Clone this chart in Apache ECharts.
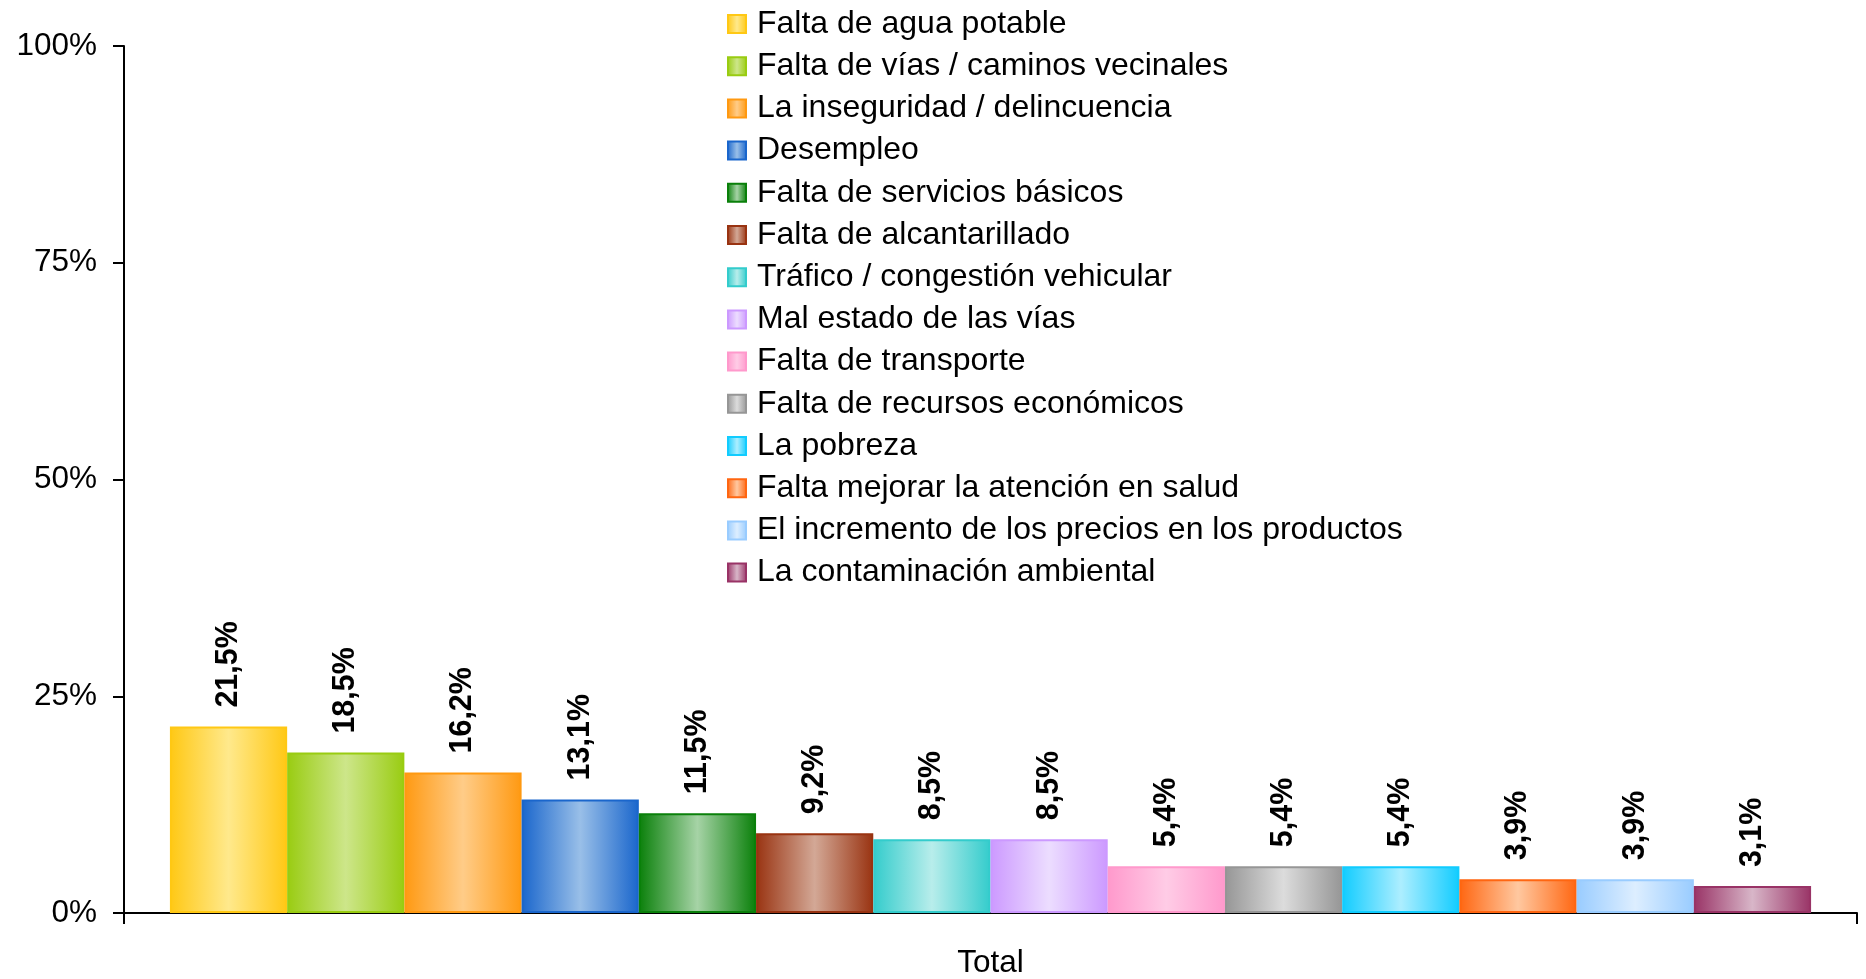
<!DOCTYPE html>
<html>
<head>
<meta charset="utf-8">
<title>Problemas</title>
<script src="https://cdn.jsdelivr.net/npm/echarts@6/dist/echarts.min.js"></script>
<style>
  html, body { margin: 0; padding: 0; background: #fff; }
  #chart { width: 1866px; height: 979px; }
</style>
</head>
<body>
<div id="chart"></div>
<script>
var categories = ['Total'];

var seriesNames = [
    'Falta de agua potable',
    'Falta de vías / caminos vecinales',
    'La inseguridad / delincuencia',
    'Desempleo',
    'Falta de servicios básicos',
    'Falta de alcantarillado',
    'Tráfico / congestión vehicular',
    'Mal estado de las vías',
    'Falta de transporte',
    'Falta de recursos económicos',
    'La pobreza',
    'Falta mejorar la atención en salud',
    'El incremento de los precios en los productos',
    'La contaminación ambiental'
];

var seriesValues = [21.5, 18.5, 16.2, 13.1, 11.5, 9.2, 8.5, 8.5, 5.4, 5.4, 5.4, 3.9, 3.9, 3.1];

// edge colour / centre colour of each bar
var edgeColors = ['#FFC814', '#99CC11', '#FF9911', '#1A66CC', '#0A800A', '#993311', '#33CCCC',
                  '#CC99FF', '#FF99CC', '#969696', '#11CCFF', '#FF6611', '#99CCFF', '#993366'];
var lightColors = ['#FFE98C', '#CDE68A', '#FFCC88', '#99BFE8', '#A6D3A6', '#D3A896', '#B8EDEB',
                   '#ECDDFF', '#FFCCE6', '#DCDCDC', '#ADEEFF', '#FFC8A0', '#DDEEFF', '#D8B6C8'];

var yTicks = [0, 25, 50, 75, 100];

var chartDom = document.getElementById('chart');
var myChart = echarts.init(chartDom);
var font = "'Liberation Sans', Arial, Helvetica, sans-serif";

var series = seriesNames.map(function (name, i) {
    return {
        name: name,
        type: 'bar',
        barGap: '0%',
        barCategoryGap: '5.3%',
        data: [seriesValues[i]],
        itemStyle: {
            color: new echarts.graphic.LinearGradient(0, 0, 1, 0, [
                { offset: 0, color: edgeColors[i] },
                { offset: 0.5, color: lightColors[i] },
                { offset: 1, color: edgeColors[i] }
            ]),
            borderColor: edgeColors[i],
            borderWidth: 2
        },
        label: {
            show: true,
            position: 'top',
            rotate: 90,
            align: 'left',
            verticalAlign: 'middle',
            distance: 19,
            fontFamily: font,
            fontSize: 30.5,
            fontWeight: 'bold',
            color: '#000',
            formatter: function (p) {
                return p.value.toFixed(1).replace('.', ',') + '%';
            }
        }
    };
});

var option = {
    animation: false,
    textStyle: { fontFamily: font },
    grid: {
        left: 124,
        right: 9,
        top: 46,
        bottom: 64
    },
    legend: {
        orient: 'vertical',
        left: 722,
        top: 3,
        icon: 'rect',
        itemWidth: 18,
        itemHeight: 18,
        itemGap: 10.2,
        textStyle: {
            fontFamily: font,
            fontSize: 32,
            color: '#000',
            lineHeight: 32,
            padding: [0, 0, 0, 6]
        },
        data: seriesNames
    },
    xAxis: {
        type: 'category',
        data: categories,
        axisLine: { lineStyle: { color: '#000', width: 2 } },
        axisTick: { show: true, length: 11, lineStyle: { color: '#000', width: 2 } },
        axisLabel: { fontSize: 31.5, color: '#000', margin: 34, fontFamily: font }
    },
    yAxis: {
        type: 'value',
        min: yTicks[0],
        max: yTicks[yTicks.length - 1],
        interval: 25,
        axisLine: { show: true, lineStyle: { color: '#000', width: 2 } },
        axisTick: { show: true, length: 11, lineStyle: { color: '#000', width: 2 } },
        splitLine: { show: false },
        axisLabel: {
            fontSize: 31.5,
            color: '#000',
            margin: 27,
            fontFamily: font,
            formatter: '{value}%'
        }
    },
    series: series
};

option && myChart.setOption(option);

window.addEventListener('resize', function () {
    myChart.resize();
});
</script>
</body>
</html>
